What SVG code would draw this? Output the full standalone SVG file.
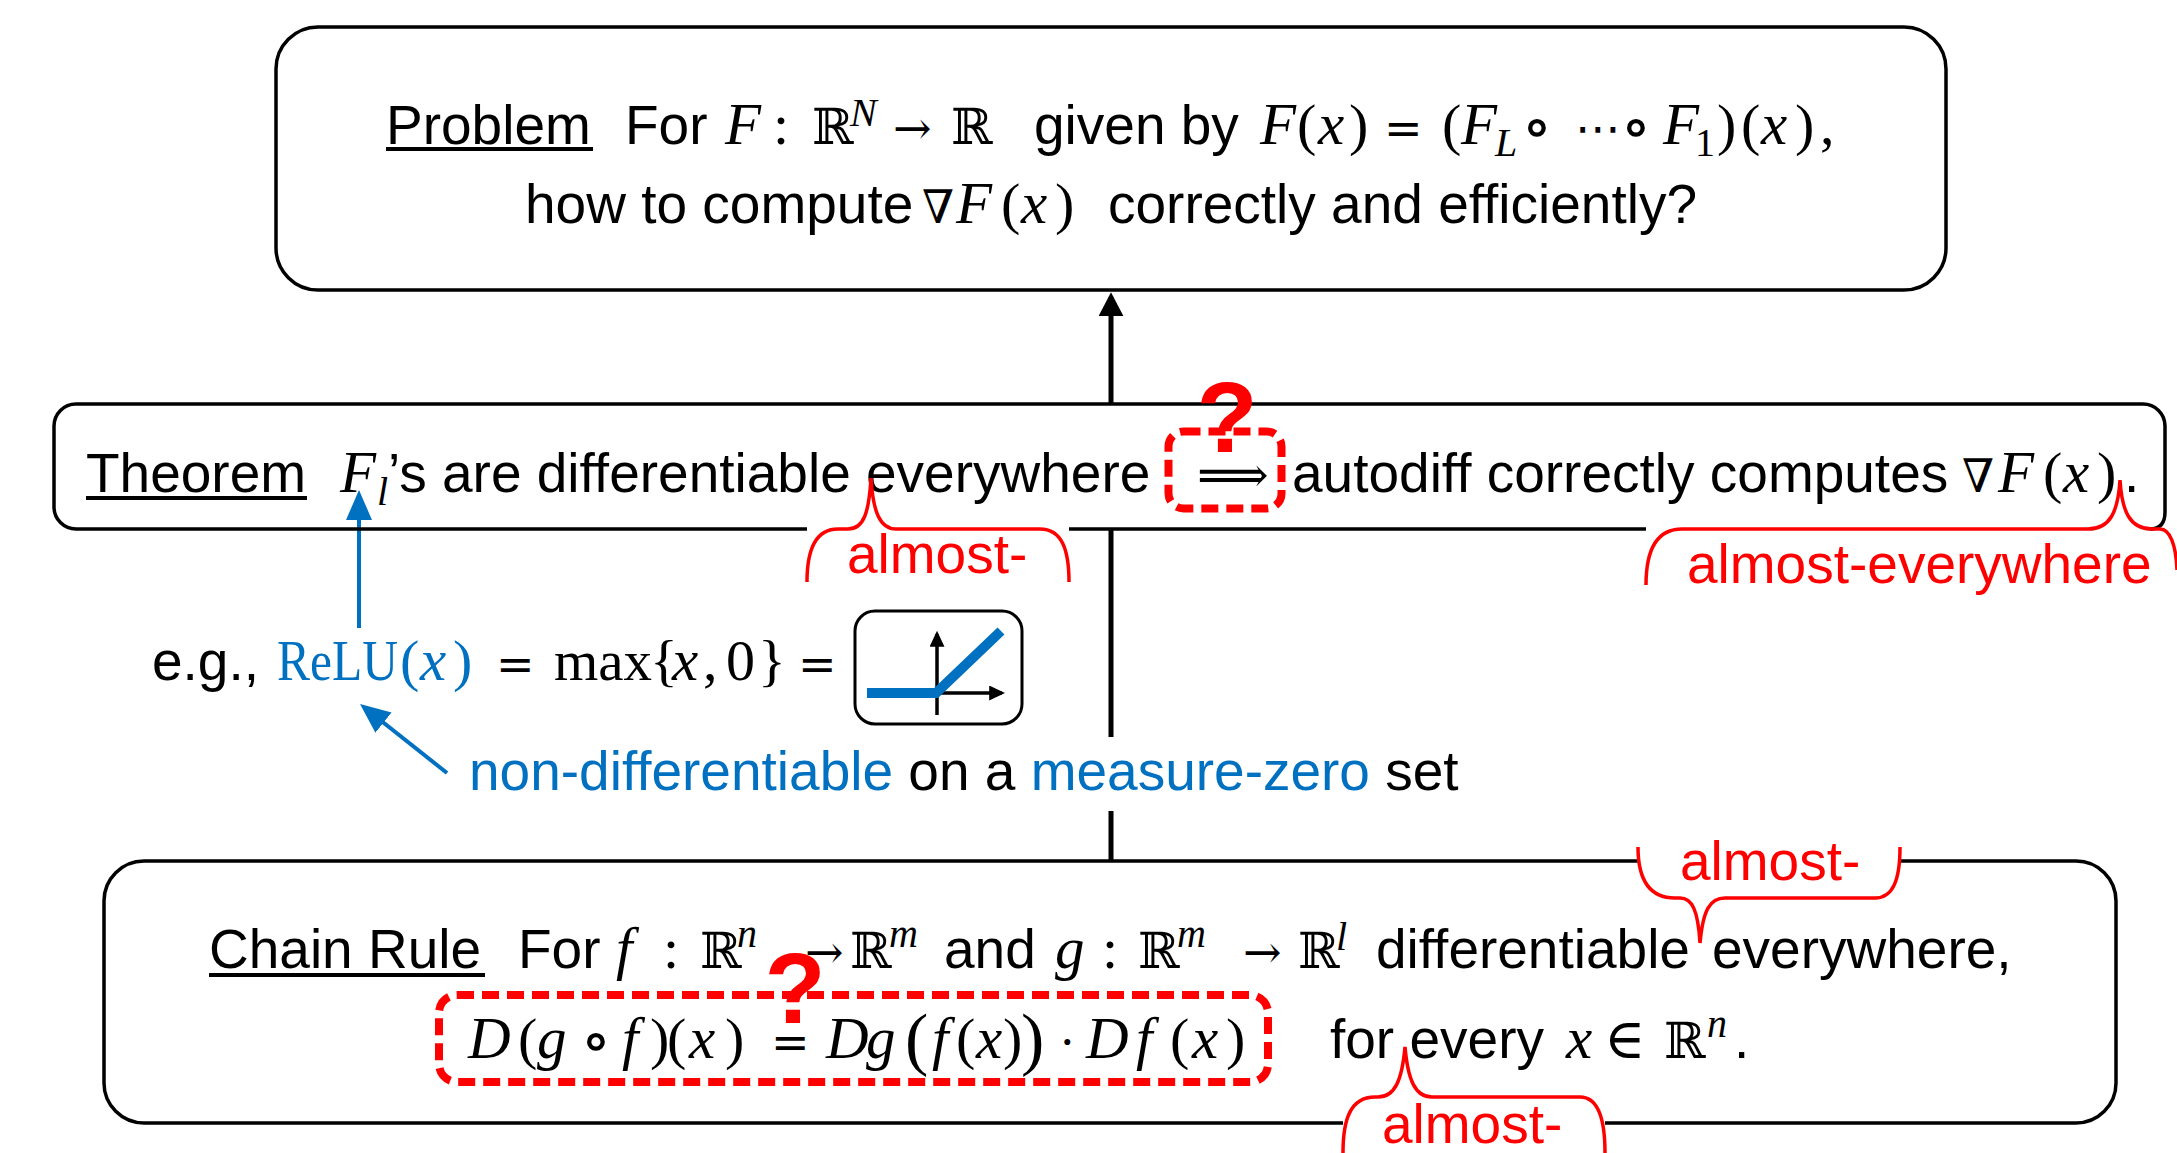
<svg xmlns="http://www.w3.org/2000/svg" width="2177" height="1153" viewBox="0 0 2177 1153">
<defs>
<style>
.box{fill:none;stroke:#000;stroke-width:3.5}
.t{font-family:"Liberation Sans",Arial,sans-serif;font-size:55px;fill:#000}
.mi{font-family:"Liberation Serif","Times New Roman",serif;font-style:italic;font-size:59px}
.mu{font-family:"Liberation Serif","Times New Roman",serif;font-style:normal;font-size:58px}
.sy{font-family:"DejaVu Serif","DejaVu Sans",serif;font-style:normal;font-size:46px}
.R{font-size:50px}
.o{font-size:64px;text-anchor:middle}
.sp{font-size:40px}
.big{font-size:70px}
.red{fill:#FF0000}
.blue{fill:#0070C0}
.ul{stroke:#000;stroke-width:4}
.brace{fill:none;stroke:#FF0000;stroke-width:3.5}
.dash{fill:none;stroke:#FF0000;stroke-width:8;stroke-dasharray:17 8}
.q{font-family:"Liberation Sans",Arial,sans-serif;font-weight:bold;font-size:100px;fill:#FF0000;text-anchor:middle}
.conn{fill:none;stroke:#000;stroke-width:5}
.bconn{fill:none;stroke:#0070C0;stroke-width:4}
</style>
<marker id="ahBlack" viewBox="0 0 10 10" refX="8" refY="5" markerUnits="userSpaceOnUse" markerWidth="24" markerHeight="25" preserveAspectRatio="none" orient="auto"><path d="M0,0 L10,5 L0,10 z" fill="#000"/></marker>
<marker id="ahBlue" viewBox="0 0 10 10" refX="8" refY="5" markerUnits="userSpaceOnUse" markerWidth="30" markerHeight="26" preserveAspectRatio="none" orient="auto"><path d="M0,0 L10,5 L0,10 z" fill="#0070C0"/></marker>
<marker id="ahSmall" viewBox="0 0 10 10" refX="8" refY="5" markerUnits="userSpaceOnUse" markerWidth="16" markerHeight="15" preserveAspectRatio="none" orient="auto"><path d="M0,0 L10,5 L0,10 z" fill="#000"/></marker>
</defs>
<rect width="2177" height="1153" fill="#fff"/>

<g id="connectors">
<line class="conn" x1="1111" y1="404" x2="1111" y2="297" marker-end="url(#ahBlack)"/>
<line class="conn" x1="1111" y1="860" x2="1111" y2="529"/>
<line class="bconn" x1="359" y1="628" x2="359" y2="496" marker-end="url(#ahBlue)"/>
<line class="bconn" x1="447" y1="773" x2="364.7" y2="707.7" marker-end="url(#ahBlue)"/>
</g>

<g id="problem">
<rect class="box" x="276" y="27" width="1670" height="263" rx="42"/>
<line class="ul" x1="386" y1="149" x2="593" y2="149"/>
<text class="t" y="144"><tspan x="386">Problem</tspan><tspan x="625">For</tspan><tspan class="mi" x="725">F</tspan><tspan class="mu" x="773">:</tspan><tspan class="sy R" x="812">ℝ</tspan><tspan class="mi sp" x="850" y="126">N</tspan><tspan class="sy" x="893" y="144">→</tspan><tspan class="sy R" x="951">ℝ</tspan><tspan x="1034">given by</tspan><tspan class="mi" x="1260">F</tspan><tspan class="mu" x="1297">(</tspan><tspan class="mi" x="1318">x</tspan><tspan class="mu" x="1349">)</tspan><tspan class="sy" x="1384">=</tspan><tspan class="mu" x="1442">(</tspan><tspan class="mi" x="1461">F</tspan><tspan class="mi sp" x="1495" y="156">L</tspan><tspan class="sy o" x="1537" y="148">∘</tspan><tspan class="sy" x="1575" y="144">⋯</tspan><tspan class="sy o" x="1636" y="148">∘</tspan><tspan class="mi" x="1663" y="144">F</tspan><tspan class="mu sp" x="1695" y="156">1</tspan><tspan class="mu" x="1717" y="144">)</tspan><tspan class="mu" x="1741">(</tspan><tspan class="mi" x="1761">x</tspan><tspan class="mu" x="1795">)</tspan><tspan class="mu" x="1820">,</tspan></text>
<text class="t" y="223"><tspan x="525">how to compute</tspan><tspan class="sy" x="922">∇</tspan><tspan class="mi" x="956">F</tspan><tspan class="mu" x="1001">(</tspan><tspan class="mi" x="1021">x</tspan><tspan class="mu" x="1055">)</tspan><tspan x="1108">correctly and efficiently?</tspan></text>
</g>

<g id="theorem">
<path class="box" d="M 807 529 H 76 A 22 22 0 0 1 54 507 V 426 A 22 22 0 0 1 76 404 H 2143 A 22 22 0 0 1 2165 426 V 512 Q 2165 529 2150 529 M 1069 529 H 1646"/>
<line class="ul" x1="86" y1="498" x2="307" y2="498"/>
<text class="t" y="492"><tspan x="86">Theorem</tspan><tspan class="mi" x="340">F</tspan><tspan class="mi sp" x="377" y="505">l</tspan><tspan x="388" y="492">’s are differentiable everywhere</tspan><tspan class="sy" x="1197" style="font-size:50px">⟹</tspan><tspan x="1292">autodiff correctly computes</tspan><tspan class="sy" x="1962">∇</tspan><tspan class="mi" x="1998">F</tspan><tspan class="mu" x="2043">(</tspan><tspan class="mi" x="2063">x</tspan><tspan class="mu" x="2097">)</tspan><tspan x="2124">.</tspan></text>
</g>

<g id="relu-example">
<text class="t" y="680"><tspan x="152">e.g.,</tspan><tspan class="mu blue" x="277" textLength="121" lengthAdjust="spacingAndGlyphs">ReLU</tspan><tspan class="mu blue" x="400">(</tspan><tspan class="mi blue" x="420">x</tspan><tspan class="mu blue" x="453">)</tspan><tspan class="sy" x="496">=</tspan><tspan class="mu" x="554" textLength="98" lengthAdjust="spacingAndGlyphs">max</tspan><tspan class="mu" x="650">{</tspan><tspan class="mi" x="672">x</tspan><tspan class="mu" x="703">,</tspan><tspan class="mu" x="726">0</tspan><tspan class="mu" x="758">}</tspan><tspan class="sy" x="798">=</tspan></text>
</g>

<g id="relu-icon">
<rect x="855" y="611" width="167" height="113" rx="20" fill="#fff" stroke="#000" stroke-width="3"/>
<line x1="937" y1="715" x2="937" y2="634" stroke="#000" stroke-width="3.5" marker-end="url(#ahSmall)"/>
<line x1="935" y1="693" x2="1002" y2="693" stroke="#000" stroke-width="3.5" marker-end="url(#ahSmall)"/>
<polyline points="867,693 936,693 1001,631" fill="none" stroke="#0070C0" stroke-width="10"/>
</g>

<g id="measure-zero-label">
<rect x="462" y="737" width="1020" height="74" fill="#fff"/>
<text class="t" x="469" y="790"><tspan class="blue">non-differentiable</tspan> on a <tspan class="blue">measure-zero</tspan> set</text>
</g>

<g id="chain-rule">
<path class="box" d="M 1638 861 H 144 A 40 40 0 0 0 104 901 V 1083 A 40 40 0 0 0 144 1123 H 1343 M 1605 1123 H 2076 A 40 40 0 0 0 2116 1083 V 901 A 40 40 0 0 0 2076 861 H 1900"/>
<line class="ul" x1="209" y1="975" x2="485" y2="975"/>
<text class="t" y="968"><tspan x="209">Chain Rule</tspan><tspan x="518">For</tspan><tspan class="mi" x="616">f</tspan><tspan class="mu" x="663">:</tspan><tspan class="sy R" x="700">ℝ</tspan><tspan class="mi sp" x="737" y="947">n</tspan><tspan class="sy" x="805" y="968">→</tspan><tspan class="sy R" x="850">ℝ</tspan><tspan class="mi sp" x="889" y="947">m</tspan><tspan x="944" y="968">and</tspan><tspan class="mi" x="1055">g</tspan><tspan class="mu" x="1102">:</tspan><tspan class="sy R" x="1138">ℝ</tspan><tspan class="mi sp" x="1177" y="947">m</tspan><tspan class="sy" x="1243" y="968">→</tspan><tspan class="sy R" x="1298">ℝ</tspan><tspan class="mi sp" x="1336" y="950">l</tspan><tspan x="1376" y="968">differentiable</tspan><tspan x="1712">everywhere,</tspan></text>
<text class="t" y="1058"><tspan class="mi" x="468">D</tspan><tspan class="mu" x="518">(</tspan><tspan class="mi" x="537">g</tspan><tspan class="sy o" x="596" y="1062">∘</tspan><tspan class="mi" x="622" y="1058">f</tspan><tspan class="mu" x="650">)</tspan><tspan class="mu" x="667">(</tspan><tspan class="mi" x="689">x</tspan><tspan class="mu" x="725">)</tspan><tspan class="sy" x="771">=</tspan><tspan class="mi" x="826">D</tspan><tspan class="mi" x="866">g</tspan><tspan class="mu big" x="905" y="1062">(</tspan><tspan class="mi" x="932" y="1058">f</tspan><tspan class="mu" x="956">(</tspan><tspan class="mi" x="976">x</tspan><tspan class="mu" x="1003">)</tspan><tspan class="mu big" x="1021" y="1062">)</tspan><tspan class="sy" x="1060" y="1058">·</tspan><tspan class="mi" x="1086">D</tspan><tspan class="mi" x="1136">f</tspan><tspan class="mu" x="1170">(</tspan><tspan class="mi" x="1192">x</tspan><tspan class="mu" x="1226">)</tspan><tspan x="1330">for every</tspan><tspan class="mi" x="1566">x</tspan><tspan class="sy" x="1604" style="font-size:56px">∈</tspan><tspan class="sy R" x="1664">ℝ</tspan><tspan class="mi sp" x="1707" y="1037">n</tspan><tspan x="1734" y="1058">.</tspan></text>
</g>

<g id="annotations">
<path class="brace" d="M 807 582 C 807 550, 815 529, 838 529 L 848 529 C 864 529, 869 512, 871 478 C 873 512, 880 529, 896 529 L 1040 529 C 1062 529, 1069 550, 1069 582"/>
<text class="t red" x="847" y="573">almost-</text>
<path class="brace" d="M 1646 585 C 1646 550, 1656 529, 1682 529 H 2088 C 2110 529, 2118 512, 2120 480 C 2122 512, 2130 529, 2152 529 H 2160 C 2170 529, 2176 545, 2177 570"/>
<text class="t red" x="1687" y="583">almost-everywhere</text>
<path class="brace" d="M 1638 847 C 1638 880, 1650 898, 1675 898 L 1680 898 C 1692 898, 1698 910, 1700 943 C 1703 910, 1710 898, 1725 898 L 1875 898 C 1893 898, 1900 880, 1900 847"/>
<text class="t red" x="1680" y="880">almost-</text>
<path class="brace" d="M 1343 1153 C 1343 1120, 1350 1097, 1375 1097 L 1378 1097 C 1395 1097, 1402 1080, 1405 1047 C 1408 1080, 1415 1097, 1432 1097 L 1580 1097 C 1598 1097, 1605 1120, 1605 1153"/>
<text class="t red" x="1382" y="1143">almost-</text>
<rect class="dash" x="1168.5" y="431.5" width="113" height="77" rx="15"/>
<text class="q" x="1227" y="452">?</text>
<rect class="dash" x="439" y="995" width="829" height="87" rx="18"/>
<text class="q" x="795" y="1023">?</text>
</g>
</svg>
